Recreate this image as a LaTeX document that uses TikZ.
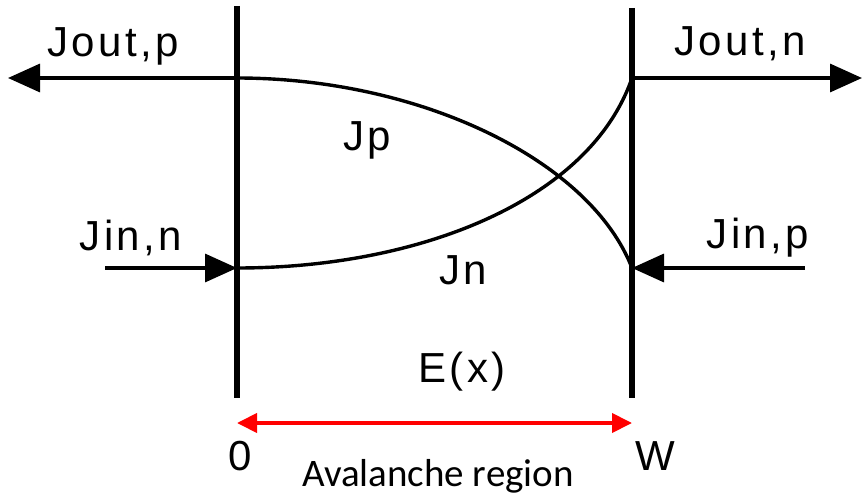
\documentclass[tikz,border=0pt]{standalone}
\usepackage{fontspec}
\setmainfont{Liberation Sans}[LetterSpace=8]
\newfontfamily\notefont{Carlito}
\usetikzlibrary{arrows.meta}
\definecolor{ink}{HTML}{000000}
\definecolor{span}{HTML}{FF0000}
\tikzset{
  edge/.style={draw=ink, line width=6pt},
  flux/.style={draw=ink, line width=3.4pt, -{Triangle[length=32pt,width=28pt]}},
  curr/.style={draw=ink, line width=3.4pt},
  lbl/.style={inner sep=0pt, text=ink, font=\fontsize{42}{48}\selectfont},
  width/.style={draw=span, line width=4pt, {Triangle[length=20pt,width=19pt]}-{Triangle[length=20pt,width=19pt]}},
}

\begin{document}
\begin{tikzpicture}[x=1pt, y=-1pt]
  \path[use as bounding box] (0,0) rectangle (864,500);

  % --- boundaries of the region -------------------------------------------
  \coordinate (top0) at (237,6);
  \coordinate (bot0) at (237,398);
  \coordinate (topW) at (632,8);
  \coordinate (botW) at (632,398);
  \draw[edge] (top0) -- (bot0);
  \draw[edge] (topW) -- (botW);

  % points where the currents meet the boundaries
  \coordinate (p0) at (237,78);   % Jp leaves at x=0
  \coordinate (n0) at (237,268);  % Jn enters at x=0
  \coordinate (nW) at (632,78);   % Jn leaves at x=W
  \coordinate (pW) at (632,268);  % Jp enters at x=W
  \coordinate (outp) at (8,78);
  \coordinate (outn) at (862,78);
  \coordinate (inn) at (105,268);
  \coordinate (inp) at (805,268);

  % --- in and out fluxes --------------------------------------------------
  \draw[flux] (p0) -- (outp);
  \draw[flux] (nW) -- (outn);
  \draw[flux] (inn) -- (n0);
  \draw[flux] (inp) -- (pW);

  % --- current profiles inside -------------------------------------------
  \draw[curr] (p0) .. controls (420,78) and (590,160) .. (pW);
  \draw[curr] (n0) .. controls (420,268) and (590,200) .. (nW);

  % --- labels -------------------------------------------------------------
  \node[lbl] (joutp) at (113,46) {Jout,p};
  \node[lbl] (joutn) at (740,44) {Jout,n};
  \node[lbl] (jinn)  at (131,238) {Jin,n};
  \node[lbl] (jinp)  at (758,238) {Jin,p};
  \node[lbl] (jp)    at (367,140) {Jp};
  \node[lbl] (jn)    at (463,270) {Jn};
  \node[lbl] (ex)    at (462,372) {E(x)};
  \node[lbl] (zero)  at (240,456) {0};
  \node[lbl] (wid)   at (655,456) {W};

  % --- avalanche width ----------------------------------------------------
  \coordinate (a0) at (237,423);
  \coordinate (aW) at (632,423);
  \draw[width] (a0) -- (aW);
  \node[inner sep=0pt, font=\notefont\fontsize{39}{44}\selectfont] (aval) at (438,476) {Avalanche region};
\end{tikzpicture}
\end{document}
